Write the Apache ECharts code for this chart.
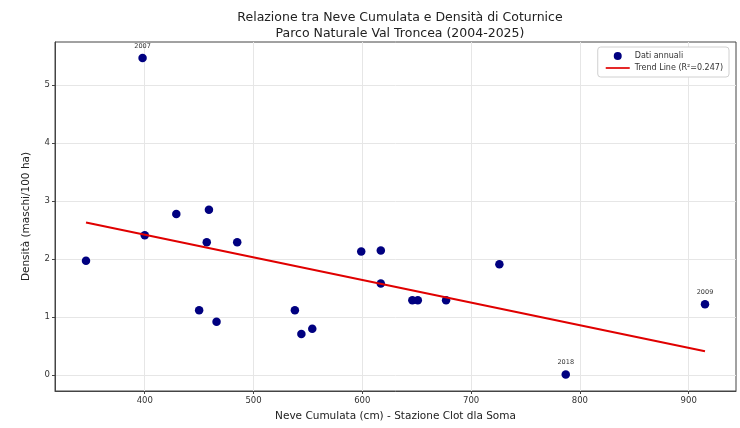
<!DOCTYPE html>
<html>
<head>
<meta charset="utf-8">
<script src="https://cdn.jsdelivr.net/npm/echarts@6/dist/echarts.min.js"></script>
<style>html,body{margin:0;padding:0;background:#fff}#c{width:740px;height:428px}</style>
</head>
<body>
<div id="c"></div>
<script>
const snowCm = [398, 429, 459, 346, 400, 457, 485, 450, 466, 538, 544, 554, 599, 617, 617, 646, 651, 677, 726, 787, 915];
const density = [5.47, 2.78, 2.85, 1.97, 2.41, 2.29, 2.29, 1.12, 0.92, 1.12, 0.71, 0.80, 2.13, 2.15, 1.58, 1.29, 1.29, 1.29, 1.91, 0.01, 1.22];
const pointLabels = ['2007', '', '', '', '', '', '', '', '', '', '', '', '', '', '', '', '', '', '', '2018', '2009'];
const trendX = [346, 915];
const trendY = [2.63, 0.41];
const xTicks = [400, 500, 600, 700, 800, 900];
const yTicks = [0, 1, 2, 3, 4, 5];
const titleText = 'Relazione tra Neve Cumulata e Densità di Coturnice\nParco Naturale Val Troncea (2004-2025)';
const xName = 'Neve Cumulata (cm) - Stazione Clot dla Soma';
const yName = 'Densità (maschi/100 ha)';
const scatterName = 'Dati annuali';
const trendName = 'Trend Line (R²=0.247)';

const F = 'DejaVu Sans';
const scatterData = snowCm.map((x, i) => ({
  value: [x, density[i]],
  label: {show: pointLabels[i] !== '', formatter: pointLabels[i], position: 'top', distance: 4, fontSize: 6.5, color: '#333', fontFamily: F}
}));
const trendData = trendX.map((x, i) => [x, trendY[i]]);

const chart = echarts.init(document.getElementById('c'));
chart.setOption({
  animation: false,
  backgroundColor: '#fff',
  title: {
    text: titleText, left: 395, textAlign: 'center', top: 5,
    textStyle: {fontFamily: F, fontSize: 12.5, fontWeight: 'normal', color: '#222', lineHeight: 16}
  },
  legend: {
    orient: 'vertical', right: 11, top: 47,
    backgroundColor: '#fff', borderColor: '#d0d0d0', borderWidth: 1, borderRadius: 3,
    padding: [5, 6, 5, 8], itemGap: 4, itemWidth: 24, itemHeight: 8,
    textStyle: {fontFamily: F, fontSize: 8, color: '#333'},
    data: [
      {name: scatterName, icon: 'circle'},
      {name: trendName, icon: 'path://M0 0H100V7H0Z'}
    ]
  },
  grid: {left: 55, right: 4, top: 42, bottom: 37, show: true, borderColor: '#444', borderWidth: 1},
  xAxis: {
    type: 'value', min: 317.5, max: 943.5,
    name: xName, nameLocation: 'middle', nameGap: 20,
    nameTextStyle: {fontFamily: F, fontSize: 10.5, color: '#222'},
    axisLine: {show: true, onZero: false, lineStyle: {color: '#444'}},
    axisTick: {show: true, length: 3, customValues: xTicks, lineStyle: {color: '#444'}},
    axisLabel: {customValues: xTicks, fontFamily: F, fontSize: 8.5, color: '#333', margin: 5},
    splitLine: {show: true, lineStyle: {color: '#e6e6e6', width: 1}}
  },
  yAxis: {
    type: 'value', min: -0.274, max: 5.744,
    name: yName, nameLocation: 'middle', nameGap: 23,
    nameTextStyle: {fontFamily: F, fontSize: 10.5, color: '#222'},
    axisLine: {show: true, onZero: false, lineStyle: {color: '#444'}},
    axisTick: {show: true, length: 3, customValues: yTicks, lineStyle: {color: '#444'}},
    axisLabel: {customValues: yTicks, fontFamily: F, fontSize: 8.5, color: '#333', margin: 5},
    splitLine: {show: true, lineStyle: {color: '#e6e6e6', width: 1}}
  },
  series: [
    {
      name: scatterName, type: 'scatter', data: scatterData,
      symbol: 'circle', symbolSize: 8.5, z: 3,
      itemStyle: {color: '#000080', opacity: 1}
    },
    {
      name: trendName, type: 'line', data: trendData,
      symbol: 'none', z: 4,
      itemStyle: {color: '#e00000'},
      lineStyle: {color: '#e00000', width: 2}
    }
  ]
});
</script>
</body>
</html>
